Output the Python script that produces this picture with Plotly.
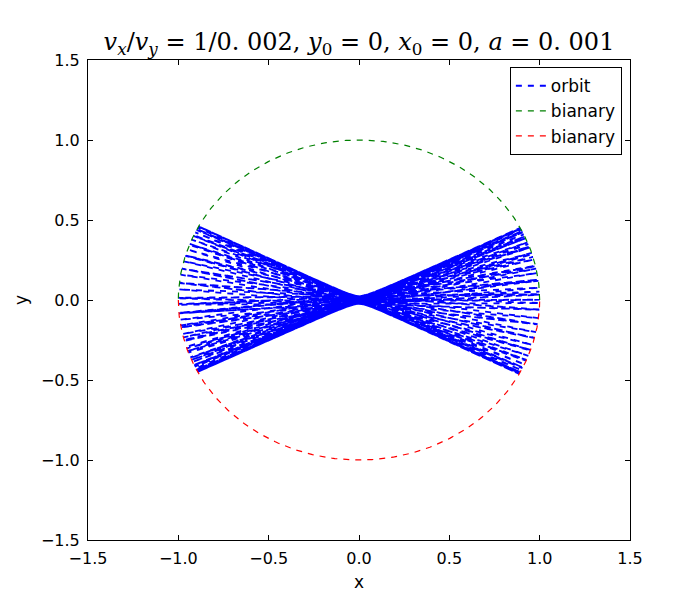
import numpy as np
import plotly.graph_objects as go

# Chord angle (deg) of each successive bounce.
# Bounce k lies on the unit circle at polar angle chord_angle_deg[k] + 180*k.
chord_angle_deg = [0.1, 1.4, 3.0, 4.8, 6.9, 9.1, 11.3, 13.5, 15.6, 17.6, 19.5, 21.2,
                   22.7, 24.0, 25.0, 25.8, 26.4, 26.7, 26.8, 26.6, 26.1, 25.3, 24.2,
                   22.8, 21.1, 19.2, 17.1, 14.8, 12.4, 9.9, 7.3, 4.6, 1.9, -0.8, -3.5,
                   -6.2, -8.8, -11.3, -13.7, -16.0, -18.2, -20.2, -22.0, -23.6, -24.9,
                   -26.0, -26.8, -27.3, -27.5, -27.4, -27.0, -26.3, -25.2, -23.9,
                   -22.3, -20.5, -18.4, -16.2, -13.8, -11.3, -8.7, -6.1, -3.4, -0.6,
                   2.1, 4.7, 7.3, 9.8, 12.2, 14.5, 16.6, 18.6, 20.4, 22.0, 23.4, 24.6,
                   25.5, 26.2, 26.6, 26.7, 26.5, 26.0, 25.2, 24.1, 22.7, 21.0, 19.1,
                   17.0, 14.7, 12.3, 9.7, 7.1, 4.4, 1.7, -1.1, -3.8, -6.5, -9.1,
                   -11.6, -14.0, -16.3, -18.4, -20.4, -22.2, -23.7, -25.0, -26.0,
                   -26.8, -27.2, -27.4]
start_point = [0.0, 0.0]
circle_radius = 1.0
axis_range = [-1.5, 1.5]
tick_values = [-1.5, -1.0, -0.5, 0.0, 0.5, 1.0, 1.5]

# orbit points
phi = np.radians(np.array(chord_angle_deg) + 180.0 * np.arange(len(chord_angle_deg)))
ox = np.concatenate([[start_point[0]], circle_radius * np.cos(phi)])
oy = np.concatenate([[start_point[1]], circle_radius * np.sin(phi)])

# circle halves
t_up = np.linspace(0, np.pi, 200)
t_dn = np.linspace(np.pi, 2 * np.pi, 200)

fig = go.Figure()
fig.add_trace(go.Scatter(x=ox, y=oy, mode="lines", name="orbit",
                         line=dict(color="#0000ff", width=1.8, dash="6px,6px")))
fig.add_trace(go.Scatter(x=circle_radius * np.cos(t_up), y=circle_radius * np.sin(t_up),
                         mode="lines", name="bianary",
                         line=dict(color="#008000", width=1.2, dash="6px,6px")))
fig.add_trace(go.Scatter(x=circle_radius * np.cos(t_dn), y=circle_radius * np.sin(t_dn),
                         mode="lines", name="bianary",
                         line=dict(color="#ff0000", width=1.2, dash="6px,6px")))

axis_common = dict(range=axis_range, tickvals=tick_values, tickformat=".1f",
                   showgrid=False, zeroline=False, showline=True, linecolor="black",
                   linewidth=1, mirror="ticks", ticks="inside", ticklen=5,
                   ticklabelstandoff=4,
                   tickcolor="black", tickfont=dict(family="DejaVu Sans", size=16, color="black"))

fig.update_layout(
    width=700, height=600,
    margin=dict(l=88, r=70, t=60, b=60),
    paper_bgcolor="white", plot_bgcolor="white",
    title=dict(text="<i>v</i><sub><i>x</i></sub>/<i>v</i><sub><i>y</i></sub> = 1/0. 002, "
                    "<i>y</i><sub>0</sub> = 0, <i>x</i><sub>0</sub> = 0, <i>a</i> = 0. 001",
               x=0.5, xanchor="center", y=1 - 42 / 600, yanchor="middle",
               xref="paper", yref="container",
               font=dict(family="DejaVu Serif", size=24, color="black")),
    xaxis=dict(axis_common, title=dict(text="x", font=dict(family="DejaVu Sans", size=17, color="black"), standoff=8)),
    yaxis=dict(axis_common, title=dict(text="y", font=dict(family="DejaVu Sans", size=17, color="black"), standoff=8)),
    legend=dict(x=0.985, y=0.985, xanchor="right", yanchor="top",
                bgcolor="white", bordercolor="black", borderwidth=1,
                font=dict(family="DejaVu Sans", size=17, color="black")),
    showlegend=True,
)

fig.write_html("out.html")
